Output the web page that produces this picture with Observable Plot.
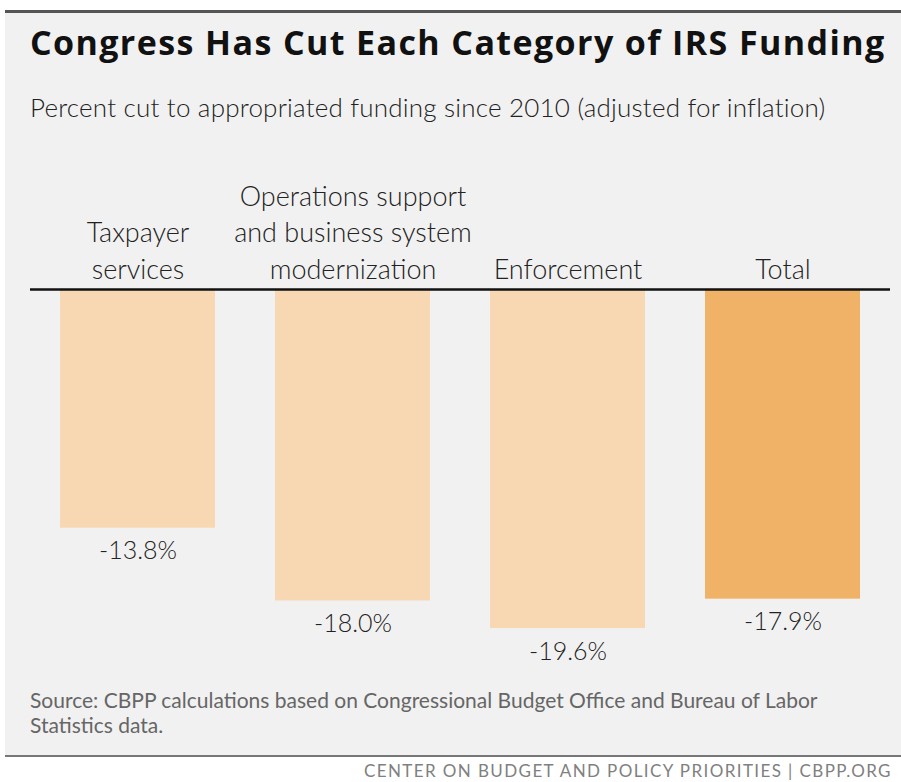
<!DOCTYPE html>
<html>
<head>
<meta charset="utf-8">
<script src="https://cdn.jsdelivr.net/npm/d3@7"></script>
<script src="https://cdn.jsdelivr.net/npm/@observablehq/plot@0.6"></script>
<style>
  html, body { margin: 0; padding: 0; background: #ffffff; width: 901px; height: 782px; overflow: hidden; font-family: Lato, "Open Sans", sans-serif; }
  #panel { position: absolute; left: 5px; top: 10px; width: 896px; height: 742px; background: #f1f1f1; border-top: 3px solid #555; border-bottom: 2px solid #777; }
  #title { position: absolute; left: 25px; top: 12px; font-family: "Open Sans", sans-serif; font-size: 34px; line-height: 34px; font-weight: 700; color: #111; white-space: nowrap; letter-spacing: 1.4px; }
  #subtitle { position: absolute; left: 25px; top: 81px; font-size: 26px; line-height: 26px; font-weight: 300; color: #222; white-space: nowrap; letter-spacing: 0.2px; }
  #chart { position: absolute; left: -5px; top: 137px; }
  #source { position: absolute; left: 25px; top: 674px; font-size: 21px; line-height: 25px; color: #666; width: 830px; }
  #footer { position: absolute; left: 364px; top: 764px; font-size: 17px; line-height: 14px; color: #808080; letter-spacing: 1.4px; white-space: nowrap; }
</style>
</head>
<body>
<div id="panel">
  <div id="title">Congress Has Cut Each Category of IRS Funding</div>
  <div id="subtitle">Percent cut to appropriated funding since 2010 (adjusted for inflation)</div>
  <div id="chart"></div>
  <div id="source">Source: CBPP calculations based on Congressional Budget Office and Bureau of Labor Statistics data.</div>
</div>
<div id="footer">CENTER ON BUDGET AND POLICY PRIORITIES | CBPP.ORG</div>
<script>
const categories = ["Taxpayer\nservices", "Operations support\nand business system\nmodernization", "Enforcement", "Total"];
const values = [-13.8, -18.0, -19.6, -17.9];
const valueLabels = ["-13.8%", "-18.0%", "-19.6%", "-17.9%"];
const isTotal = [false, false, false, true];

const data = categories.map((c, i) => ({category: c, value: values[i], label: valueLabels[i], total: isTotal[i]}));

const chart = Plot.plot({
  width: 901,
  height: 530,
  marginLeft: 30,
  marginRight: 11,
  marginTop: 139,
  marginBottom: 10,
  style: {background: "transparent", fontFamily: "Lato, 'Open Sans', sans-serif", overflow: "visible"},
  x: {domain: categories, paddingInner: 0.28, paddingOuter: 0.14, axis: null},
  y: {domain: [-22, 0], range: [139 + 22 * 17.3, 139], axis: null},
  marks: [
    Plot.barY(data, {x: "category", y: "value", fill: d => d.total ? "#f0b266" : "#f7d8b3"}),
    Plot.ruleY([0], {stroke: "#111", strokeWidth: 2.5}),
    Plot.text(data, {x: "category", y: 0, text: "category", lineAnchor: "bottom", dy: -11, fontSize: 27, lineHeight: 1.35, fill: "#222", fontWeight: 300}),
    Plot.text(data, {x: "category", y: "value", text: "label", dy: 23, fontSize: 25, fill: "#222", fontWeight: 300})
  ]
});
document.getElementById("chart").appendChild(chart);
</script>
</body>
</html>
